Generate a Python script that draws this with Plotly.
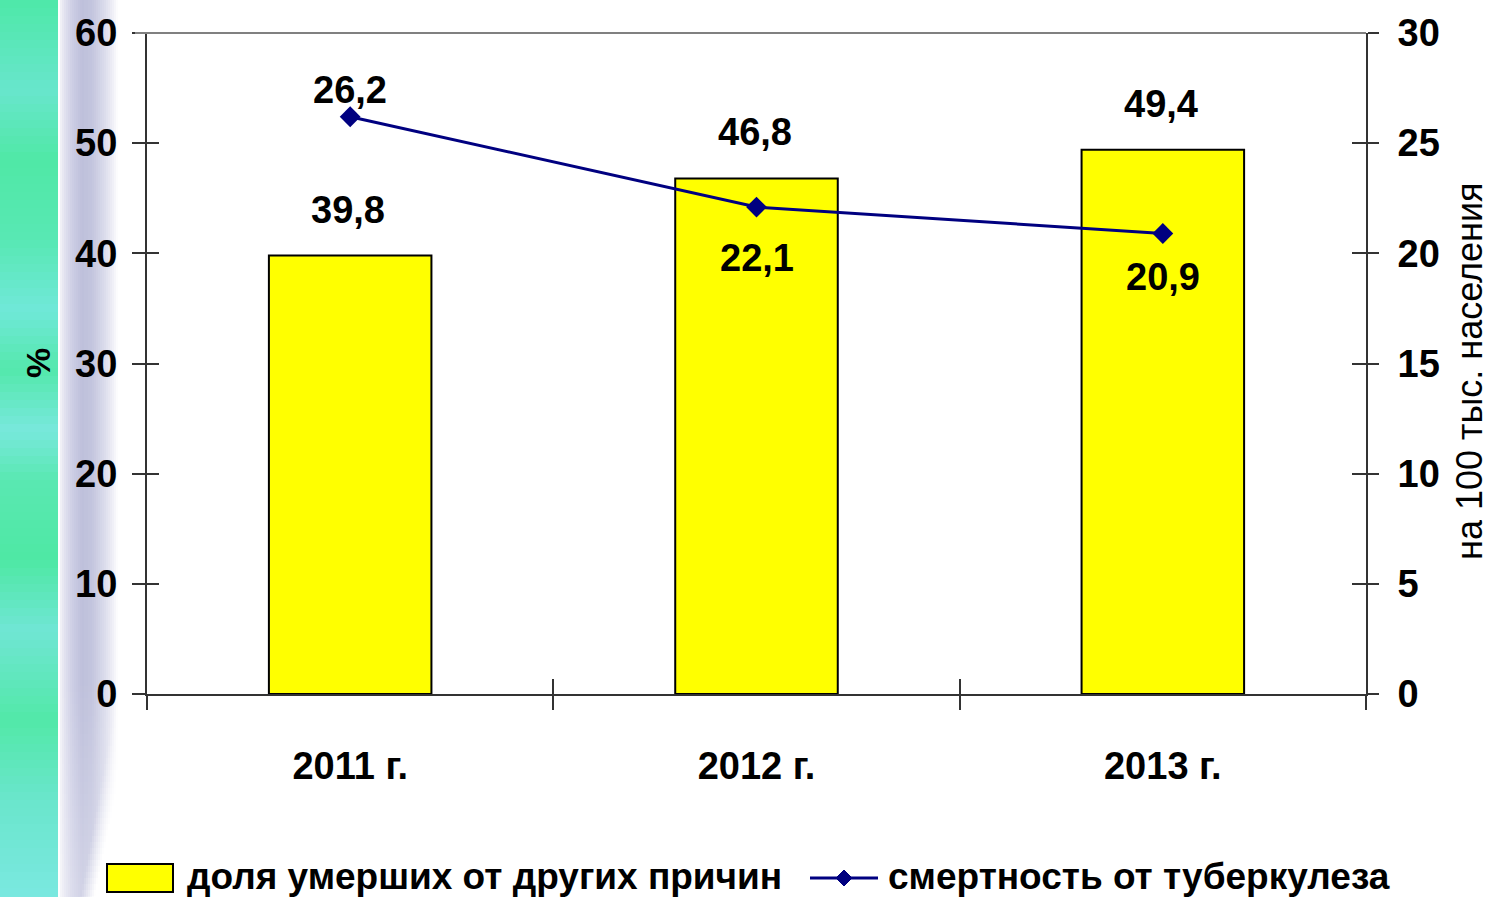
import plotly.graph_objects as go

# ---- data ----
years = ["2011 г.", "2012 г.", "2013 г."]
share_other_causes = [39.8, 46.8, 49.4]      # %, left axis
tb_mortality = [26.2, 22.1, 20.9]            # per 100k population, right axis
bar_name = "доля умерших от других причин"
line_name = "смертность от туберкулеза"
left_title = "%"
right_title = "на 100 тыс. населения"

W, H = 1490, 897
L, R, T, B = 147, 124, 33, 203
PW, PH = W - L - R, H - T - B


def px(x):
    return (x - L) / PW


def py(y):
    return (H - B - y) / PH


def hex2rgb(h):
    h = h.lstrip("#")
    return [int(h[i:i + 2], 16) for i in (0, 2, 4)]


def mix(c1, c2, t):
    a, b = hex2rgb(c1), hex2rgb(c2)
    return "#%02x%02x%02x" % tuple(round(a[i] + (b[i] - a[i]) * t) for i in range(3))


def ramp(stops, v):
    for (p0, c0), (p1, c1) in zip(stops, stops[1:]):
        if p0 <= v <= p1:
            return mix(c0, c1, (v - p0) / (p1 - p0) if p1 > p0 else 0)
    return stops[-1][1]


FONT = "Liberation Sans, Arial"
BOLD = dict(family=FONT, size=38, color="black", weight="bold")
fmt = lambda v: f"{v:.1f}".replace(".", ",")

fig = go.Figure()
fig.add_trace(go.Bar(
    x=years, y=share_other_causes, name=bar_name,
    marker=dict(color="#FFFF00", line=dict(color="black", width=2)),
    showlegend=False, yaxis="y",
))
fig.add_trace(go.Scatter(
    x=years, y=tb_mortality, name=line_name, mode="lines+markers",
    line=dict(color="#000080", width=3),
    marker=dict(symbol="diamond", size=16, color="#000080"),
    showlegend=False, yaxis="y2",
))
# invisible carriers for the inner halves of the crossing ticks
fig.add_trace(go.Scatter(x=years, y=[None] * 3, xaxis="x3", yaxis="y3",
                         showlegend=False, hoverinfo="skip"))
fig.add_trace(go.Scatter(x=years, y=[None] * 3, xaxis="x3", yaxis="y4",
                         showlegend=False, hoverinfo="skip"))

ann = []
for c, v in zip(years, share_other_causes):
    ann.append(dict(x=c, y=v, xref="x", yref="y", text=fmt(v), showarrow=False,
                    yanchor="middle", yshift=46, xshift=-2, font=BOLD))
line_shift = [27, -51, -43]
for c, v, s in zip(years, tb_mortality, line_shift):
    ann.append(dict(x=c, y=v, xref="x", yref="y2", text=fmt(v), showarrow=False,
                    yanchor="middle", yshift=s, font=BOLD))

# legend drawn below the plot
LEG = dict(family=FONT, size=37, color="black", weight="bold")
ann.append(dict(x=px(185), y=py(876), xref="paper", yref="paper", text=bar_name,
                showarrow=False, xanchor="left", yanchor="middle", font=LEG))
ann.append(dict(x=px(886), y=py(876), xref="paper", yref="paper", text=line_name,
                showarrow=False, xanchor="left", yanchor="middle", font=LEG))
# axis titles
ann.append(dict(x=px(38), y=py(363), xref="paper", yref="paper", text=left_title,
                showarrow=False, textangle=-90, xanchor="center", yanchor="middle",
                font=dict(family=FONT, size=34, color="black", weight="bold")))
ann.append(dict(x=px(1469), y=py(371), xref="paper", yref="paper", text=right_title,
                showarrow=False, textangle=-90, xanchor="center", yanchor="middle",
                font=dict(family=FONT, size=36, color="black")))

shapes = []
# decorative backdrop on the left edge: mottled green/cyan band
green_stops = [(0, "#4ee8a8"), (90, "#68e6cc"), (160, "#50e8a6"), (240, "#58e8b4"),
               (310, "#70e8d8"), (370, "#54e8ac"), (430, "#78e8dc"), (480, "#5ae8b2"),
               (560, "#4ee8a4"), (630, "#70e6d4"), (720, "#52e8a8"), (800, "#6ae6cc"),
               (897, "#7ae8e0")]
step = 8
for y0 in range(0, H, step):
    shapes.append(dict(type="rect", xref="paper", yref="paper", layer="below",
                       x0=px(0), x1=px(58), y0=py(min(y0 + step, H)), y1=py(y0),
                       line=dict(width=0), fillcolor=ramp(green_stops, y0 + step / 2)))
# soft lavender band next to it, fading out towards the bottom
lav_stops = [(60, "#f4f4f8"), (64, "#e4e4f0"), (72, "#cdcee5"), (82, "#bec0db"),
             (92, "#c3c5de"), (104, "#dadbeb"), (112, "#ededf5"), (118, "#ffffff")]
for x0 in range(60, 118, 2):
    base = ramp(lav_stops, x0 + 1)
    shapes.append(dict(type="rect", xref="paper", yref="paper", layer="below",
                       x0=px(x0), x1=px(x0 + 2), y0=py(680), y1=py(0),
                       line=dict(width=0), fillcolor=base))
    for y0 in range(680, H, 6):
        edge = 118 - (y0 - 680) * 0.18
        t = 0.3 * (y0 - 680) / 217
        if x0 > edge:
            t = t + (x0 - edge) / 20
        shapes.append(dict(type="rect", xref="paper", yref="paper", layer="below",
                           x0=px(x0), x1=px(x0 + 2), y0=py(min(y0 + 6, H)), y1=py(y0),
                           line=dict(width=0), fillcolor=mix(base, "#ffffff", min(t, 1.0))))
# top border of plot area
shapes.append(dict(type="line", xref="paper", yref="paper", x0=px(135), x1=1, y0=1, y1=1,
                   line=dict(color="#808080", width=2)))
# legend keys
shapes.append(dict(type="rect", xref="paper", yref="paper",
                   x0=px(107), x1=px(173), y0=py(892), y1=py(864),
                   fillcolor="#FFFF00", line=dict(color="black", width=2)))
shapes.append(dict(type="line", xref="paper", yref="paper",
                   x0=px(810), x1=px(878), y0=py(878), y1=py(878),
                   line=dict(color="#000080", width=3)))
shapes.append(dict(type="path", xref="paper", yref="paper", fillcolor="#000080",
                   line=dict(color="#000080", width=1),
                   path=f"M {px(844)},{py(870)} L {px(852)},{py(878)} L {px(844)},{py(886)} L {px(836)},{py(878)} Z"))

TICK = dict(size=38, family=FONT, color="black", weight="bold")
fig.update_layout(
    width=W, height=H, margin=dict(l=L, r=R, t=T, b=B, autoexpand=False),
    paper_bgcolor="white", plot_bgcolor="white",
    bargap=0.6, showlegend=False,
    xaxis=dict(type="category", tickson="boundaries", ticks="outside", ticklen=14,
               tickwidth=2, tickcolor="#333", showline=True, linecolor="#333", linewidth=2,
               showgrid=False, tickfont=TICK, ticklabelstandoff=37,
               range=[-0.5, 2.5], fixedrange=True),
    xaxis3=dict(type="category", overlaying="x", tickson="boundaries", ticks="inside",
                ticklen=15, tickwidth=2, tickcolor="#333", showticklabels=False,
                showgrid=False, showline=False, range=[-0.5, 2.5], side="bottom",
                anchor="y3"),
    yaxis=dict(range=[0, 60], dtick=10, ticks="outside", ticklen=13, tickwidth=2,
               tickcolor="#333", showline=True, linecolor="#333", linewidth=2,
               showgrid=False, zeroline=False, tickfont=TICK, ticklabelstandoff=7),
    yaxis3=dict(range=[0, 60], dtick=10, overlaying="y", side="left", ticks="inside",
                ticklen=12, tickwidth=2, tickcolor="#333", showticklabels=False,
                showgrid=False, zeroline=False, showline=False),
    yaxis2=dict(range=[0, 30], dtick=5, overlaying="y", side="right", ticks="outside",
                ticklen=11, tickwidth=2, tickcolor="#333", showline=True, linecolor="#333",
                linewidth=2, showgrid=False, zeroline=False, tickfont=TICK,
                ticklabelstandoff=11),
    yaxis4=dict(range=[0, 30], dtick=5, overlaying="y", side="right", ticks="inside",
                ticklen=14, tickwidth=2, tickcolor="#333", showticklabels=False,
                showgrid=False, zeroline=False, showline=False),
    annotations=ann, shapes=shapes,
)

fig.write_html("out.html")
